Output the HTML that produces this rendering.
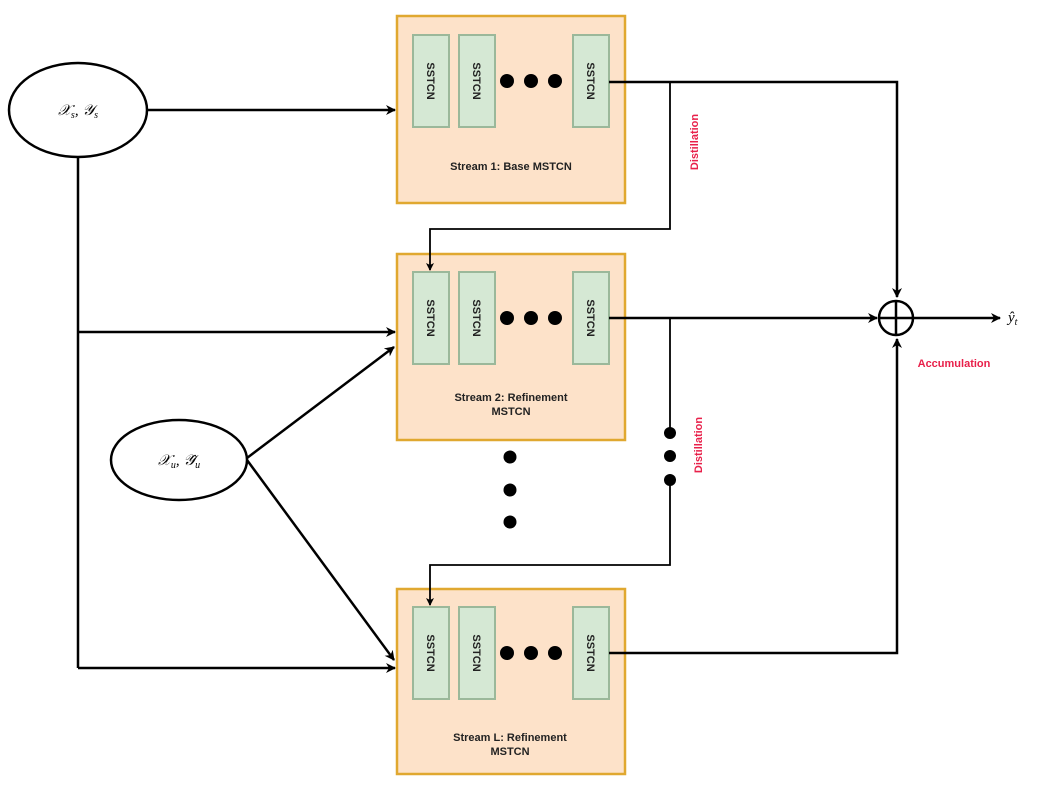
<!DOCTYPE html>
<html><head><meta charset="utf-8"><style>
html,body{margin:0;padding:0;background:#fff;width:1039px;height:790px;overflow:hidden}
svg{display:block}
.lbl{font-family:"Liberation Sans",sans-serif;font-weight:bold;font-size:11px;fill:#222}
.blk{font-family:"Liberation Sans",sans-serif;font-weight:bold;font-size:11px;fill:#222}
.red{font-family:"Liberation Sans",sans-serif;font-weight:bold;font-size:11px;fill:#e8204a}
.math{font-family:"Liberation Serif",serif;font-style:italic;font-size:15px;fill:#000}
</style></head><body>
<svg width="1039" height="790" viewBox="0 0 1039 790" xmlns="http://www.w3.org/2000/svg">
<defs>
<marker id="a" markerWidth="10" markerHeight="10" refX="9" refY="5" orient="auto" markerUnits="userSpaceOnUse">
<path d="M0,0 L10,5 L0,10 L3,5 z" fill="#000"/></marker>
<marker id="s" markerWidth="8" markerHeight="8" refX="7" refY="4" orient="auto" markerUnits="userSpaceOnUse">
<path d="M0,0 L8,4 L0,8 L2,4 z" fill="#000"/></marker>
<g id="blocks">
<rect x="0" y="0" width="36" height="92" fill="#d5e8d4" stroke="#9bb89a" stroke-width="2"/>
<rect x="46" y="0" width="36" height="92" fill="#d5e8d4" stroke="#9bb89a" stroke-width="2"/>
<rect x="160" y="0" width="36" height="92" fill="#d5e8d4" stroke="#9bb89a" stroke-width="2"/>
<text class="blk" transform="translate(14,46) rotate(90)" text-anchor="middle">SSTCN</text>
<text class="blk" transform="translate(60,46) rotate(90)" text-anchor="middle">SSTCN</text>
<text class="blk" transform="translate(174,46) rotate(90)" text-anchor="middle">SSTCN</text>
<circle cx="94" cy="46" r="7" fill="#000"/>
<circle cx="118" cy="46" r="7" fill="#000"/>
<circle cx="142" cy="46" r="7" fill="#000"/>
</g>
</defs>

<!-- boxes -->
<rect x="397" y="16" width="228" height="187" fill="#fde2c9" stroke="#e0a830" stroke-width="2.5"/>
<use href="#blocks" x="413" y="35"/>
<text class="lbl" x="511" y="170" text-anchor="middle">Stream 1: Base MSTCN</text>

<rect x="397" y="254" width="228" height="186" fill="#fde2c9" stroke="#e0a830" stroke-width="2.5"/>
<use href="#blocks" x="413" y="272"/>
<text class="lbl" x="511" y="401" text-anchor="middle">Stream 2: Refinement</text>
<text class="lbl" x="511" y="415" text-anchor="middle">MSTCN</text>

<rect x="397" y="589" width="228" height="185" fill="#fde2c9" stroke="#e0a830" stroke-width="2.5"/>
<use href="#blocks" x="413" y="607"/>
<text class="lbl" x="510" y="741" text-anchor="middle">Stream L: Refinement</text>
<text class="lbl" x="510" y="755" text-anchor="middle">MSTCN</text>

<!-- ellipses -->
<ellipse cx="78" cy="110" rx="69" ry="47" fill="#fff" stroke="#000" stroke-width="2.5"/>
<text class="math" x="78" y="115" text-anchor="middle">𝒳<tspan font-size="10" dy="3">s</tspan><tspan dy="-3">, 𝒴</tspan><tspan font-size="10" dy="3">s</tspan></text>
<ellipse cx="179" cy="460" rx="68" ry="40" fill="#fff" stroke="#000" stroke-width="2.5"/>
<text class="math" x="179" y="465" text-anchor="middle">𝒳<tspan font-size="10" dy="3">u</tspan><tspan dy="-3">, 𝒴̂</tspan><tspan font-size="10" dy="3">u</tspan></text>

<g stroke="#000" stroke-width="2.5" fill="none">
<line x1="147" y1="110" x2="395" y2="110" marker-end="url(#a)"/>
<polyline points="78,157 78,668"/>
<line x1="78" y1="332" x2="395" y2="332" marker-end="url(#a)"/>
<line x1="78" y1="668" x2="395" y2="668" marker-end="url(#a)"/>
<line x1="247" y1="458" x2="394" y2="347" marker-end="url(#a)"/>
<line x1="247" y1="460" x2="394" y2="660" marker-end="url(#a)"/>
<polyline points="609,82 897,82 897,297" marker-end="url(#a)"/>
<line x1="609" y1="318" x2="877" y2="318" marker-end="url(#a)"/>
<polyline points="609,653 897,653 897,339" marker-end="url(#a)"/>
<line x1="914" y1="318" x2="1000" y2="318" marker-end="url(#a)"/>
<circle cx="896" cy="318" r="17"/>
<line x1="879" y1="318" x2="913" y2="318"/>
<line x1="896" y1="301" x2="896" y2="335"/>
</g>
<g stroke="#000" stroke-width="1.8" fill="none">
<polyline points="670,82 670,229 430,229 430,270" marker-end="url(#s)"/>
<polyline points="670,318 670,433"/>
<polyline points="670,480 670,565 430,565 430,605" marker-end="url(#s)"/>
</g>
<g fill="#000">
<circle cx="670" cy="433" r="6"/><circle cx="670" cy="456" r="6"/><circle cx="670" cy="480" r="6"/>
<circle cx="510" cy="457" r="6.5"/><circle cx="510" cy="490" r="6.5"/><circle cx="510" cy="522" r="6.5"/>
</g>
<text class="red" transform="translate(698,142) rotate(-90)" text-anchor="middle">Distillation</text>
<text class="red" transform="translate(702,445) rotate(-90)" text-anchor="middle">Distillation</text>
<text class="red" x="954" y="367" text-anchor="middle">Accumulation</text>
<text class="math" x="1008" y="322">ŷ<tspan font-size="10" dy="3">t</tspan></text>
</svg>
</body></html>
